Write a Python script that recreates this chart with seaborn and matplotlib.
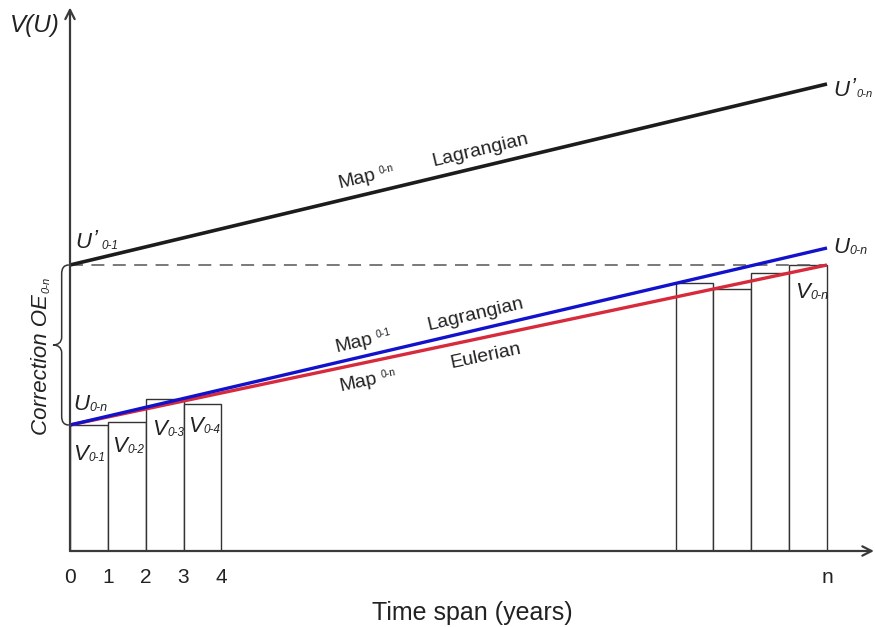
import numpy as np
import pandas as pd
import matplotlib
matplotlib.use("Agg")
import matplotlib.pyplot as plt
from matplotlib.path import Path
from matplotlib.patches import PathPatch
import seaborn as sns

# Annual volumes V(0-k), indexed by the year that closes each interval
early_years = [1, 2, 3, 4]
early_volumes = [12.6, 12.9, 15.2, 14.7]
late_years = [17, 18, 19, 20]
late_volumes = [26.8, 26.2, 27.8, 28.6]

# Cumulative trends from year 0 to year n
span_years = [0, 20]
eulerian_map = [12.6, 28.6]     # Map 0-n, Eulerian
lagrangian_map = [12.6, 30.3]   # Map 0-1, Lagrangian
corrected_map = [28.6, 46.7]    # Map 0-n, Lagrangian after the OE correction

tick_years = [0, 1, 2, 3, 4, 20]
tick_labels = ["0", "1", "2", "3", "4", "n"]

INK = "#222222"
AXIS = "#3a3a3a"
EDGE = "#333333"
BLACK = "#1c1c1c"
BLUE = "#1212cc"
RED = "#d72a3c"

sns.set_theme(style="white")
SANS = ["Liberation Sans", "DejaVu Sans"]
plt.rcParams["font.family"] = SANS

fig = plt.figure(figsize=(8.75, 6.27), dpi=100)
ax = fig.add_axes([70 / 875, 76 / 627, 805 / 875, 546 / 627])
for side in ax.spines.values():
    side.set_visible(False)

# Yearly bars
bars = pd.DataFrame({"year": early_years + late_years,
                     "volume": early_volumes + late_volumes})
bars["mid"] = bars["year"] - 0.5
sns.barplot(data=bars, x="mid", y="volume", native_scale=True, width=1.0,
            color="white", edgecolor=EDGE, linewidth=1.0, errorbar=None,
            saturation=1, ax=ax, zorder=1)

# Trend lines
sns.lineplot(x=span_years, y=eulerian_map, color=RED, lw=2.4, ax=ax,
             solid_capstyle="butt", zorder=3)
sns.lineplot(x=span_years, y=lagrangian_map, color=BLUE, lw=2.4, ax=ax,
             solid_capstyle="butt", zorder=4)
sns.lineplot(x=span_years, y=corrected_map, color=BLACK, lw=2.6, ax=ax,
             solid_capstyle="butt", zorder=4)
ax.plot(span_years, [corrected_map[0]] * 2, color="#555555", lw=1.1,
        dashes=(8.5, 5.5), zorder=2)

ax.set_xlim(0, 805 / 37.85)
ax.set_ylim(0, 54.6)

# Axes drawn as arrows
arrow = dict(arrowstyle="->,head_length=0.55,head_width=0.28", lw=1.6,
             color=AXIS, shrinkA=0, shrinkB=0)
ax.annotate("", xy=(21.24, 0), xytext=(0, 0), arrowprops=arrow,
            annotation_clip=False, zorder=5)
ax.annotate("", xy=(0, 54.35), xytext=(0, 0), arrowprops=arrow,
            annotation_clip=False, zorder=5)

ax.set_xticks(tick_years, tick_labels)
ax.set_yticks([])
ax.tick_params(axis="x", length=0, pad=12, labelsize=15, labelcolor=INK)
ax.set_xlabel("Time span (years)", fontsize=18, color=INK, labelpad=10)
ax.set_ylabel("")

renderer = fig.canvas.get_renderer()


def rich_text(x, y, parts, angle=0.0, style="italic"):
    """Write a run of text pieces (text, size, rise, gap) from a baseline point."""
    rad = np.deg2rad(angle)
    advance = 0.0
    for s, size, rise, gap in parts:
        advance += gap
        dx = advance * np.cos(rad) - rise * np.sin(rad)
        dy = advance * np.sin(rad) + rise * np.cos(rad)
        t = ax.annotate(s, xy=(x, y), xycoords="data", xytext=(dx, dy),
                        textcoords="offset points", ha="left", va="baseline",
                        fontsize=size, fontstyle=style, color=INK,
                        family=SANS, annotation_clip=False, zorder=6)
        advance += t.get_window_extent(renderer).width * 72 / fig.dpi
        t.set_rotation(angle)
        t.set_rotation_mode("anchor")


def screen_angle(xs, ys):
    p = ax.transData.transform(np.column_stack([xs, ys]))
    return np.degrees(np.arctan2(p[1, 1] - p[0, 1], p[1, 0] - p[0, 0]))


# Axis title and point labels
rich_text(-1.6, 51.9, [("V(U)", 17.5, 0, 0)])
rich_text(0.13, 30.3, [("U", 16, 0, 0), ("\u2019", 16, 2, 1), ("0-1", 8.5, -1, 3)])
rich_text(20.16, 45.5, [("U", 16, 0, 0), ("\u2019", 16, 2, 1), ("0-n", 8, -1, 1)])
rich_text(20.16, 29.8, [("U", 16, 0, 0), ("0-n", 9, -1, 0.3)])
rich_text(0.08, 14.1, [("U", 16, 0, 0), ("0-n", 9, -1, 0.3)])
rich_text(19.15, 25.3, [("V", 16, 0, 0), ("0-n", 9, -1, 0.3)])
rich_text(0.08, 9.1, [("V", 16, 0, 0), ("0-1", 8.5, -1, 0.3)])
rich_text(1.11, 9.9, [("V", 16, 0, 0), ("0-2", 8.5, -1, 0.3)])
rich_text(2.17, 11.6, [("V", 16, 0, 0), ("0-3", 8.5, -1, 0.3)])
rich_text(3.12, 11.9, [("V", 16, 0, 0), ("0-4", 8.5, -1, 0.3)])

# Labels riding along the trend lines
a_black = screen_angle(span_years, corrected_map)
a_blue = screen_angle(span_years, lagrangian_map)
a_red = screen_angle(span_years, eulerian_map)
rich_text(7.13, 36.3, [("Map", 14, 0, 0), ("0-n", 7.5, 3.0, 3)], a_black, "normal")
rich_text(9.59, 38.5, [("Lagrangian", 14, 0, 0)], a_black, "normal")
rich_text(7.03, 19.9, [("Map", 14, 0, 0), ("0-1", 7.5, 3.0, 3)], a_blue, "normal")
rich_text(9.48, 22.1, [("Lagrangian", 14, 0, 0)], a_blue, "normal")
rich_text(7.16, 16.0, [("Map", 14, 0, 0), ("0-n", 7.5, 3.0, 3)], a_red, "normal")
rich_text(10.07, 18.3, [("Eulerian", 14, 0, 0)], a_red, "normal")

# Correction bracket between U0-n and U'0-1
lo, hi = eulerian_map[0], corrected_map[0]
mid = (lo + hi) / 2
xe, xv, xt = -0.03, -0.22, -0.45
verts = [(xe, hi), (-0.16, hi), (xv, hi - 0.3), (xv, hi - 0.9),
         (xv, mid + 0.8),
         (xv, mid + 0.25), (-0.32, mid), (xt, mid),
         (-0.32, mid), (xv, mid - 0.25), (xv, mid - 0.8),
         (xv, lo + 0.9),
         (xv, lo + 0.3), (-0.16, lo), (xe, lo)]
codes = [Path.MOVETO, Path.CURVE4, Path.CURVE4, Path.CURVE4,
         Path.LINETO,
         Path.CURVE4, Path.CURVE4, Path.CURVE4,
         Path.CURVE4, Path.CURVE4, Path.CURVE4,
         Path.LINETO,
         Path.CURVE4, Path.CURVE4, Path.CURVE4]
ax.add_patch(PathPatch(Path(verts, codes), fill=False, lw=1.1, ec=EDGE,
                       clip_on=False, zorder=5))
rich_text(-0.62, 11.6, [("Correction OE", 16, 0, 0), ("0-n", 8, -2, 0.5)], 90)

fig.savefig("out.png", dpi=100)
